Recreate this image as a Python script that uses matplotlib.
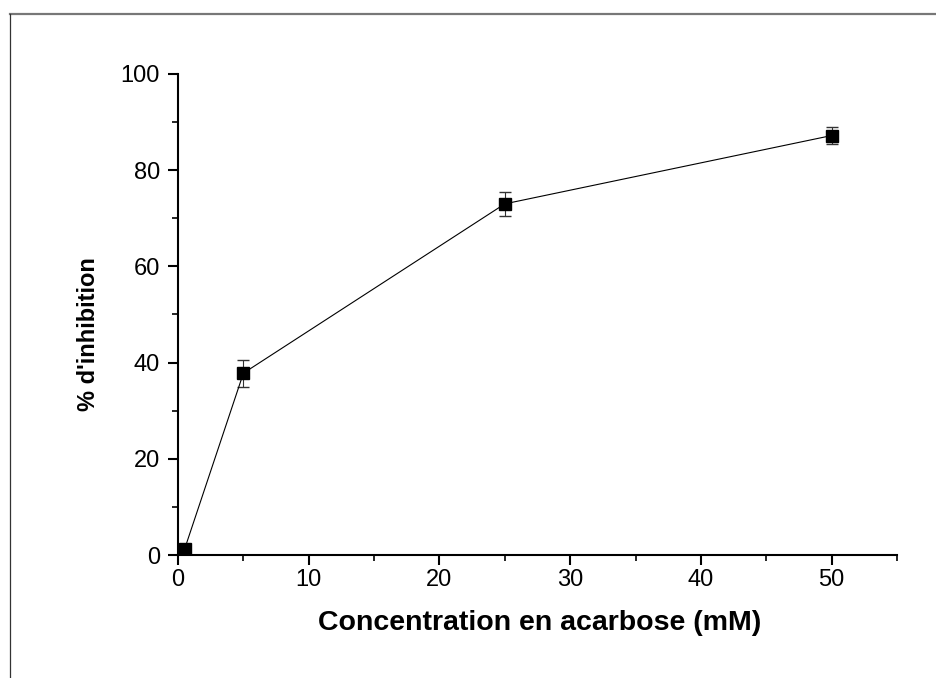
#!/usr/bin/env python3
"""Inhibition curve for acarbose concentration."""
import matplotlib
matplotlib.use("Agg")
import matplotlib.pyplot as plt
from matplotlib.lines import Line2D
from matplotlib.ticker import MultipleLocator

# data
conc_mM = [0.5, 5, 25, 50]
inhibition = [1.2, 37.8, 73.0, 87.2]
inhibition_err = [0.0, 2.8, 2.5, 1.8]

plt.rcParams["font.family"] = ["Liberation Sans", "DejaVu Sans"]

fig = plt.figure(figsize=(9.36, 6.78), dpi=100)
ax = fig.add_axes([0.1902, 0.1814, 0.7681, 0.7095])

ax.errorbar(conc_mM, inhibition, yerr=inhibition_err, fmt="-s", color="black",
            linewidth=0.8, markersize=8.5, ecolor="#333333", elinewidth=0.8,
            capsize=4.5, capthick=1.0)

ax.set_xlim(0, 55)
ax.set_ylim(0, 100)
ax.xaxis.set_major_locator(MultipleLocator(10))
ax.xaxis.set_minor_locator(MultipleLocator(5))
ax.yaxis.set_major_locator(MultipleLocator(20))
ax.yaxis.set_minor_locator(MultipleLocator(10))

for side in ("top", "right"):
    ax.spines[side].set_visible(False)
for side in ("left", "bottom"):
    ax.spines[side].set_linewidth(1.5)

ax.tick_params(which="major", direction="out", length=7, width=1.5, labelsize=17, pad=3)
ax.tick_params(axis="y", which="major", pad=6)
ax.tick_params(which="minor", direction="out", length=4, width=1.2)

ax.set_xlabel("Concentration en acarbose (mM)", fontsize=20.5, fontweight="bold", labelpad=14)
ax.set_ylabel("% d'inhibition", fontsize=17, fontweight="bold", labelpad=15)
ax.yaxis.label.set_y(0.46)
ax.xaxis.label.set_x(0.503)

# outer frame lines seen at the image edges
fig.add_artist(Line2D([0.0112, 1.0], [0.9794, 0.9794], transform=fig.transFigure,
                      color="#777777", linewidth=1.6))
fig.add_artist(Line2D([0.0112, 0.0112], [0.0, 0.9794], transform=fig.transFigure,
                      color="#333333", linewidth=0.9))

fig.savefig("out.png", dpi=100)
